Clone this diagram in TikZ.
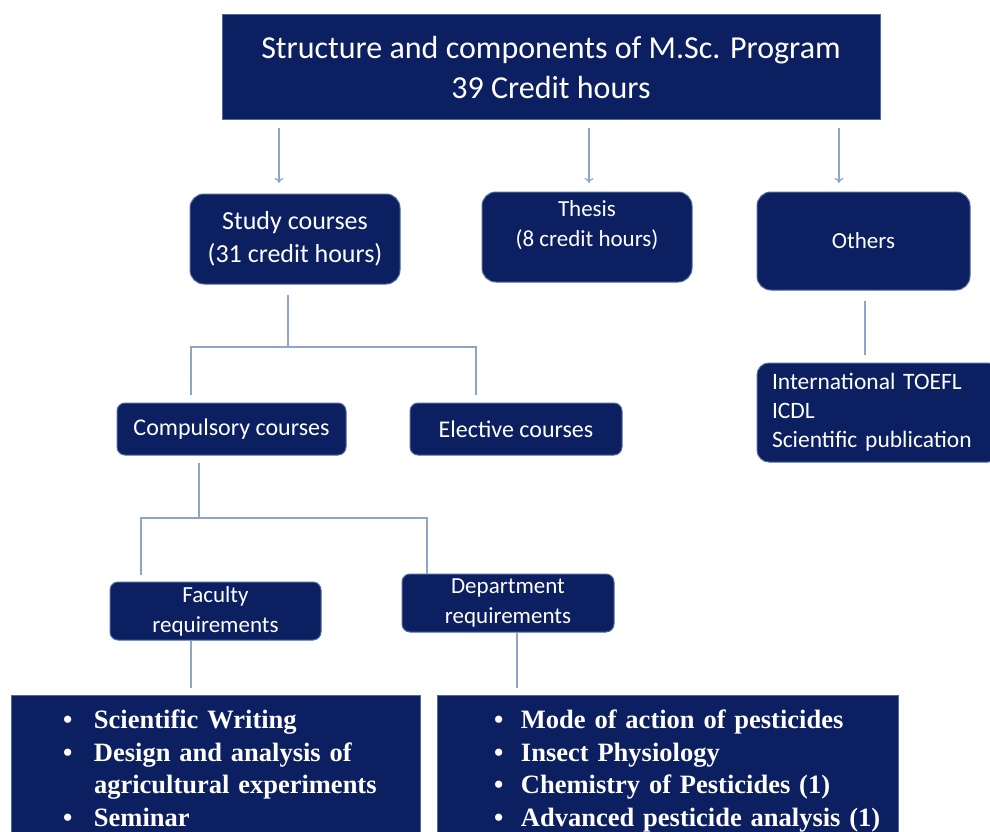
\documentclass[tikz,border=0pt]{standalone}
\usepackage{fontspec}
\setmainfont{Carlito}
\newfontfamily\tnrfont{Liberation Serif}
\usetikzlibrary{arrows.meta,calc}
\definecolor{navy}{HTML}{0B1F61}
\definecolor{edgeblue}{HTML}{4F6A9E}
\definecolor{linkblue}{HTML}{8DA5C6}
\begin{document}
\begin{tikzpicture}[x=1pt,y=-1pt,
 box/.style={fill=navy,draw=edgeblue,line width=1pt,text=white,inner sep=0pt,align=center},
 rbox/.style={box,rounded corners=14pt},
 sbox/.style={box,rounded corners=8pt},
 listbox/.style={box,align=left,font=\tnrfont\bfseries\fontsize{26.5}{32.5}\selectfont},
 conn/.style={draw=linkblue,line width=1.2pt},
 arr/.style={conn,-{To[length=5pt,width=9pt]}},
]
\fill[white] (0,0) rectangle (990,832);
\useasboundingbox (0,0) rectangle (990,832);

\node[box,minimum width=658pt,minimum height=105pt,font=\fontsize{32}{40}\selectfont] (top) at (551,67.5)
  {Structure and components of M.Sc. Program\\39 Credit hours};

\node[rbox,minimum width=210pt,minimum height=90pt,font=\fontsize{26}{33}\selectfont] (study) at (295,239)
  {Study courses\\(31 credit hours)};
\node[rbox,minimum width=210pt,minimum height=90pt,font=\fontsize{23}{30}\selectfont] (thesis) at (587,237)
  {Thesis\\(8 credit hours)\\[-3pt]\mbox{}};
\node[rbox,minimum width=213pt,minimum height=98pt,font=\fontsize{23}{29}\selectfont] (others) at (863.5,241)
  {Others};

\node[sbox,rounded corners=12pt,minimum width=243pt,minimum height=99pt,align=left,text width=213pt,inner xsep=15pt,
  font=\fontsize{23.5}{29}\selectfont] (olist) at (878.5,412.5)
  {International TOEFL\\ICDL\\Scientific publication};

\node[sbox,minimum width=229pt,minimum height=52pt,font=\fontsize{24}{30}\selectfont] (compulsory) at (231.5,429)
  {Compulsory courses};
\node[sbox,minimum width=212pt,minimum height=52pt,font=\fontsize{24}{30}\selectfont] (elective) at (516,429)
  {Elective courses};

\node[sbox,minimum width=211pt,minimum height=58pt,font=\fontsize{23}{30}\selectfont] (faculty) at (215.5,611)
  {Faculty\\requirements};
\node[sbox,minimum width=212pt,minimum height=58pt,font=\fontsize{23}{30}\selectfont] (department) at (508,603)
  {Department\\requirements};

\node[listbox,minimum width=409pt,minimum height=152pt,text width=409pt] (faclist) at (215.5,771)
  {\hspace*{52pt}\begin{tabular}{@{}p{31pt}@{}l@{}}
   \textbullet & Scientific Writing\\
   \textbullet & Design and analysis of\\
               & agricultural experiments\\
   \textbullet & Seminar
  \end{tabular}};
\node[listbox,minimum width=461pt,minimum height=152pt,text width=461pt] (deplist) at (667.5,771)
  {\hspace*{57pt}\begin{tabular}{@{}p{27pt}@{}l@{}}
   \textbullet & Mode of action of pesticides\\
   \textbullet & Insect Physiology\\
   \textbullet & Chemistry of Pesticides (1)\\
   \textbullet & Advanced pesticide analysis (1)
  \end{tabular}};

% arrows from the top box
\coordinate (c1) at (279,183);
\coordinate (c2) at (589,183);
\coordinate (c3) at (839,183);
\draw[arr] ([yshift=-8pt]top.south -| c1) -- (c1);
\draw[arr] ([yshift=-8pt]top.south -| c2) -- (c2);
\draw[arr] ([yshift=-8pt]top.south -| c3) -- (c3);

% study courses branch
\coordinate (j1) at (288,347);
\coordinate (j2) at (191,347);
\coordinate (j3) at (476,347);
\draw[conn] ([yshift=-10pt]study.south -| j1) -- (j1);
\draw[conn] ([yshift=8pt]compulsory.north -| j2) -- (j2) -- (j3) -- ([yshift=8pt]elective.north -| j3);

% compulsory branch
\coordinate (k1) at (199,518);
\coordinate (k2) at (141,518);
\coordinate (k3) at (427,518);
\draw[conn] ([yshift=-7pt]compulsory.south -| k1) -- (k1);
\draw[conn] ([yshift=7pt]faculty.north -| k2) -- (k2) -- (k3) -- (department.north -| k3);

% to the lists
\coordinate (f1) at (191,688);
\coordinate (d1) at (517,688);
\coordinate (o1) at (865,355);
\draw[conn] (faculty.south -| f1) -- (f1);
\draw[conn] (department.south -| d1) -- (d1);
\draw[conn] ([yshift=-10pt]others.south -| o1) -- (o1);
\end{tikzpicture}
\end{document}
